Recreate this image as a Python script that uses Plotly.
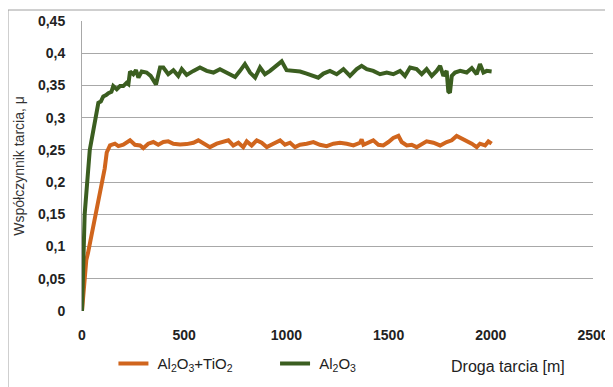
import plotly.graph_objects as go

# Al2O3 + TiO2 (orange)
x_tio2 = [0, 21, 29, 111, 121, 137, 161, 178, 202, 235, 259, 284, 300, 324, 349, 373, 398, 422, 447,
          480, 512, 545, 569, 594, 626, 659, 692, 716, 740, 765, 789, 806, 830, 855, 879, 904, 936,
          969, 993, 1018, 1042, 1067, 1099, 1132, 1164, 1197, 1230, 1262, 1295, 1328, 1360, 1368,
          1377, 1401, 1425, 1450, 1474, 1499, 1523, 1548, 1564, 1589, 1613, 1637, 1662, 1686, 1719,
          1752, 1784, 1809, 1833, 1858, 1882, 1907, 1931, 1947, 1972, 1988, 2004]
y_tio2 = [0, 0.079, 0.0895, 0.221, 0.246, 0.257, 0.2596, 0.2559, 0.258, 0.2648, 0.258, 0.2569,
          0.2527, 0.2596, 0.2622, 0.258, 0.2622, 0.2632, 0.2596, 0.2585, 0.259, 0.2611, 0.2648,
          0.2596, 0.2543, 0.2596, 0.2622, 0.2648, 0.2569, 0.2611, 0.2543, 0.2632, 0.2569, 0.2648,
          0.2611, 0.2543, 0.2596, 0.2648, 0.258, 0.2611, 0.2543, 0.258, 0.2596, 0.2622, 0.258,
          0.2559, 0.2596, 0.2611, 0.2596, 0.2569, 0.2611, 0.2664, 0.258, 0.2622, 0.2648, 0.258,
          0.2569, 0.2622, 0.2685, 0.2717, 0.2622, 0.2569, 0.258, 0.2543, 0.258, 0.2632, 0.2611,
          0.2569, 0.2622, 0.2648, 0.2717, 0.2674, 0.2648, 0.2596, 0.2543, 0.2596, 0.2569, 0.2632,
          0.2596]

# Al2O3 (green)
x_al2o3 = [0, 13, 38, 55, 70, 80, 92, 104, 118, 129, 144, 153, 170, 186, 202, 218, 227, 235, 251,
           264, 276, 292, 316, 336, 362, 382, 398, 422, 447, 471, 488, 512, 545, 577, 610, 643, 675,
           708, 749, 773, 797, 822, 847, 871, 895, 920, 952, 977, 1001, 1034, 1067, 1099, 1132,
           1156, 1181, 1213, 1246, 1279, 1311, 1344, 1368, 1393, 1425, 1458, 1491, 1523, 1556,
           1580, 1605, 1637, 1662, 1686, 1711, 1735, 1752, 1768, 1784, 1792, 1800, 1809, 1825,
           1850, 1882, 1907, 1931, 1947, 1964, 1980, 2004]
y_al2o3 = [0, 0.15, 0.25, 0.283, 0.309, 0.323, 0.325, 0.333, 0.335, 0.338, 0.34, 0.349, 0.344,
           0.349, 0.349, 0.354, 0.352, 0.3716, 0.3674, 0.3737, 0.3621, 0.3716, 0.370, 0.3648,
           0.3516, 0.3779, 0.3779, 0.3674, 0.3737, 0.3648, 0.3753, 0.3664, 0.3726, 0.3779, 0.3726,
           0.370, 0.3753, 0.370, 0.3632, 0.3726, 0.3832, 0.370, 0.3621, 0.3779, 0.3674, 0.3726,
           0.3805, 0.3874, 0.3737, 0.3726, 0.3716, 0.3684, 0.3648, 0.3621, 0.3684, 0.3726, 0.3674,
           0.3753, 0.3648, 0.3753, 0.3805, 0.3753, 0.3726, 0.3674, 0.370, 0.3674, 0.3726, 0.3648,
           0.3779, 0.3753, 0.3674, 0.3753, 0.3648, 0.3726, 0.3805, 0.3648, 0.3726, 0.341, 0.3385,
           0.3648, 0.370, 0.3726, 0.370, 0.3769, 0.3674, 0.3832, 0.370, 0.3726, 0.3716]

y_ticks = [0, 0.05, 0.1, 0.15, 0.2, 0.25, 0.3, 0.35, 0.4, 0.45]
y_labels = ["0", "0,05", "0,1", "0,15", "0,2", "0,25", "0,3", "0,35", "0,4", "0,45"]
x_ticks = [0, 500, 1000, 1500, 2000, 2500]

ORANGE = "#D0651D"
GREEN = "#3B5E20"
FONT = "Liberation Sans, Arial, sans-serif"
NB = "\u00a0"

fig = go.Figure()
fig.add_trace(go.Scatter(x=x_tio2, y=y_tio2, mode="lines",
                         name=NB + "Al<sub>2</sub>O<sub>3</sub>+TiO<sub>2</sub>" + NB * 9,
                         line=dict(color=ORANGE, width=4)))
fig.add_trace(go.Scatter(x=x_al2o3, y=y_al2o3, mode="lines",
                         name=NB + "Al<sub>2</sub>O<sub>3</sub>",
                         line=dict(color=GREEN, width=4)))

fig.update_layout(
    width=613, height=387,
    margin=dict(l=74, r=28, t=13, b=84),
    paper_bgcolor="white", plot_bgcolor="white",
    showlegend=True,
    legend=dict(orientation="h", xref="container", yref="container", x=0.172, y=0.081,
                xanchor="left", yanchor="middle",
                font=dict(family=FONT, size=15, color="#222"),
                itemwidth=30, bgcolor="rgba(0,0,0,0)"),
    xaxis=dict(range=[0, 2500], tickvals=x_ticks, showgrid=False, zeroline=False, automargin=False,
               showline=False, ticks="", ticklabelstandoff=14,
               tickfont=dict(family=FONT, size=14, color="#222", weight="bold")),
    yaxis=dict(range=[0, 0.45], tickvals=y_ticks, ticktext=y_labels, showgrid=True, automargin=False,
               gridcolor="#A8A8A8", gridwidth=1, zeroline=False,
               showline=True, linecolor="#A8A8A8", linewidth=1, ticks="", ticklabelstandoff=13,
               tickfont=dict(family=FONT, size=14, color="#222", weight="bold"),
               title=dict(text="Współczynnik tarcia, μ", standoff=10,
                          font=dict(family=FONT, size=14, color="#333"))),
    annotations=[dict(text="Droga tarcia [m]", xref="paper", yref="paper", x=0.834, y=-0.193,
                      xanchor="center", yanchor="middle", showarrow=False,
                      font=dict(family=FONT, size=16, color="#222"))],
    shapes=[dict(type="rect", xref="paper", yref="paper", x0=-0.1448, x1=1.1, y0=-0.35, y1=1.0379,
                 line=dict(color="#A0A0A0", width=1), fillcolor="rgba(0,0,0,0)", layer="below")],
)

fig.write_html("out.html")
